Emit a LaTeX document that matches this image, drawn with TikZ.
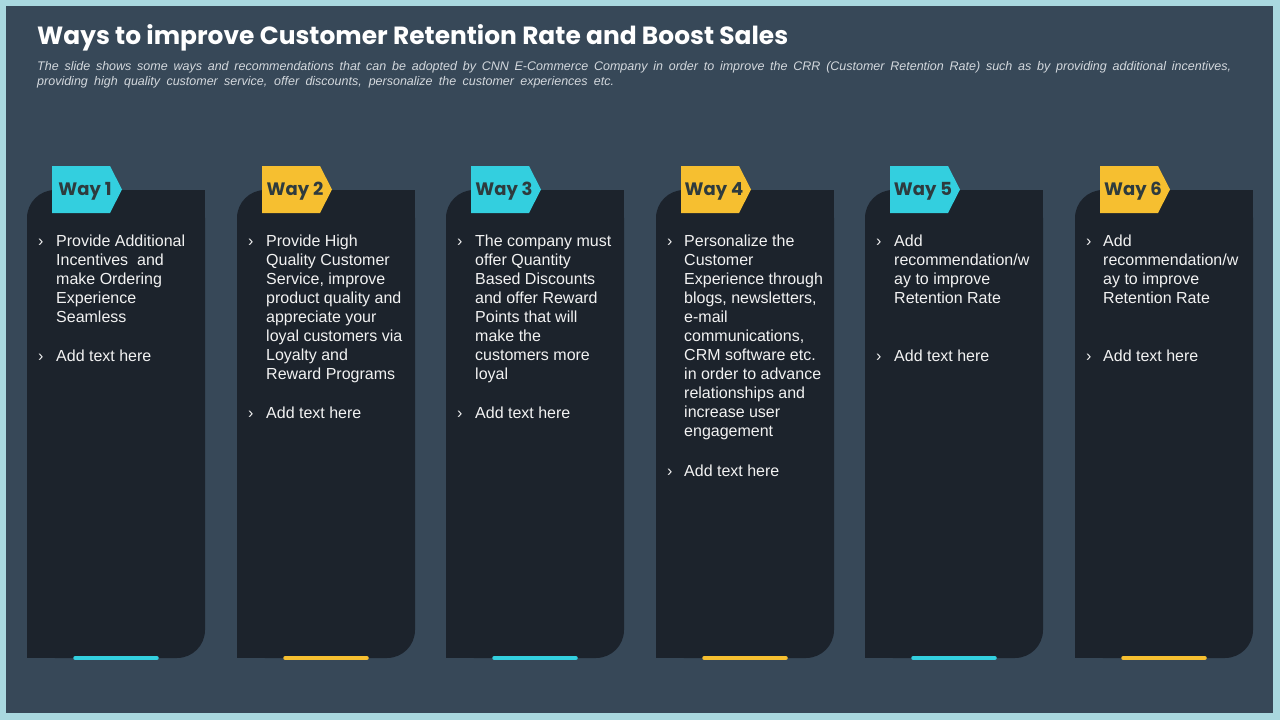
\documentclass[tikz,border=0pt]{standalone}
\usepackage{fontspec}
\setmainfont{Liberation Sans}
\newfontfamily\titlefont{Poppins}
\definecolor{frameC}{HTML}{A9D8DF}
\definecolor{slideC}{HTML}{374858}
\definecolor{cardC}{HTML}{1C232C}
\definecolor{tealC}{HTML}{33CFDF}
\definecolor{goldC}{HTML}{F6BF30}
\definecolor{tagtxt}{HTML}{2E3B3E}
\definecolor{subC}{HTML}{D3D8DD}
\definecolor{bodyC}{HTML}{F2F2F2}
\newcommand\cardlines[4]{%
  \foreach \l [count=\k] in {#4} {\node[body, anchor=base west] (#1-\k) at (#2, #3+19*\k-19) {\l};}}
\begin{document}
\begin{tikzpicture}[x=1pt,y=-1pt,
  body/.style={inner sep=0pt, text=bodyC, font=\fontsize{16pt}{19pt}\selectfont},
  taglabel/.style={inner sep=0pt, text=tagtxt, font=\titlefont\bfseries\fontsize{18pt}{22pt}\selectfont},
  bar/.style={line width=3.5pt, line cap=round}]
\useasboundingbox (0,0) rectangle (1280,720);
\fill[frameC] (0,0) rectangle (1280,720);
\fill[slideC] (6,6) rectangle (1273,713);
\node[anchor=base west, inner sep=0pt, text=white, font=\titlefont\bfseries\fontsize{24.9pt}{28pt}\selectfont] (title) at (37,44) {Ways to improve Customer Retention Rate and Boost Sales};
\node[anchor=base west, inner sep=0pt, text=subC, font=\itshape\fontsize{12.5pt}{15pt}\selectfont] (sub1) at (37,70.5) {\makebox[1194pt][s]{The slide shows some ways and recommendations that can be adopted by CNN E-Commerce Company in order to improve the CRR (Customer Retention Rate) such as by providing additional incentives,}};
\node[anchor=base west, inner sep=0pt, text=subC, font=\itshape\fontsize{12.5pt}{15pt}\selectfont] (sub2) at (37,85.5) {\makebox[577pt][s]{providing high quality customer service, offer discounts, personalize the customer experiences etc.}};
\foreach \i/\x/\c in {1/27/tealC,2/237/goldC,3/446/tealC,4/656/goldC,5/865/tealC,6/1075/goldC}{
  \fill[cardC, rounded corners=28pt] (\x,190) rectangle (\x+178,658);
  \fill[cardC] (\x+140,190) rectangle (\x+178,230);
  \fill[cardC] (\x,620) rectangle (\x+40,658);
  \fill[\c] (\x+25,166) -- (\x+83,166) -- (\x+95,189.5) -- (\x+83,213) -- (\x+25,213) -- cycle;
  \node[taglabel] (tag\i) at (\x+58,191.5) {Way \i};
  \draw[bar, \c] (\x+48,658) -- (\x+130,658);
  \node[body, anchor=base west] (bA\i) at (\x+11,246.5) {›};
}
\node[body, anchor=base west] (bB1) at (38,361.5) {›};
\node[body, anchor=base west] (bB2) at (248,418.5) {›};
\node[body, anchor=base west] (bB3) at (457,418.5) {›};
\node[body, anchor=base west] (bB4) at (667,476.5) {›};
\node[body, anchor=base west] (bB5) at (876,361.5) {›};
\node[body, anchor=base west] (bB6) at (1086,361.5) {›};
\cardlines{c1}{56}{246.5}{Provide Additional, Incentives\ \ and, make Ordering, Experience, Seamless}
\cardlines{d1}{56}{361.5}{Add text here}
\cardlines{c2}{266}{246.5}{Provide High, Quality Customer, {Service, improve}, product quality and, appreciate your, loyal customers via, Loyalty and, Reward Programs}
\cardlines{d2}{266}{418.5}{Add text here}
\cardlines{c3}{475}{246.5}{The company must, offer Quantity, Based Discounts, and offer Reward, Points that will, make the, customers more, loyal}
\cardlines{d3}{475}{418.5}{Add text here}
\cardlines{c4}{684}{246.5}{Personalize the, Customer, Experience through, {blogs, newsletters,}, e-mail, {communications,}, CRM software etc., in order to advance, relationships and, increase user, engagement}
\cardlines{d4}{684}{476.5}{Add text here}
\cardlines{c5}{894}{246.5}{Add, recommendation/w, ay to improve, Retention Rate}
\cardlines{d5}{894}{361.5}{Add text here}
\cardlines{c6}{1103}{246.5}{Add, recommendation/w, ay to improve, Retention Rate}
\cardlines{d6}{1103}{361.5}{Add text here}
\end{tikzpicture}
\end{document}
